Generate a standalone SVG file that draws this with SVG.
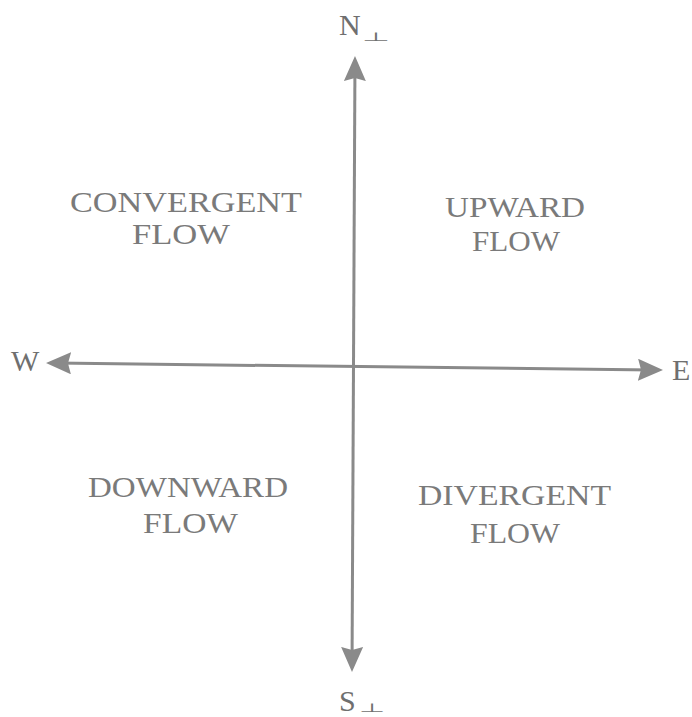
<svg xmlns="http://www.w3.org/2000/svg" width="692" height="717" viewBox="0 0 692 717">
  <style>
    .axis { stroke: #8a8a8a; stroke-width: 3; fill: none; }
    .lbl { font-family: "Liberation Serif", "DejaVu Serif", serif; font-size: 29px; fill: #7a7a7a; }
    .dir { font-family: "Liberation Serif", "DejaVu Serif", serif; font-size: 30px; fill: #6f6f6f; }
    .perp { font-family: "DejaVu Sans", sans-serif; font-size: 20px; fill: #6f6f6f; }
  </style>
  <defs>
    <marker id="arrow" viewBox="0 0 25 22" refX="15" refY="11" markerWidth="25" markerHeight="22" markerUnits="userSpaceOnUse" orient="auto-start-reverse">
      <path d="M0,0 L25,11 L0,22 L3,11 z" fill="#8a8a8a"/>
    </marker>
  </defs>
  <rect width="692" height="717" fill="#ffffff"/>
  <g id="connectors">
    <line class="axis" x1="354.95" y1="66" x2="352.05" y2="662" marker-start="url(#arrow)" marker-end="url(#arrow)"/>
    <line class="axis" x1="56" y1="363.1" x2="653" y2="369.9" marker-start="url(#arrow)" marker-end="url(#arrow)"/>
  </g>
  <g id="north">
    <text class="dir" x="339" y="35">N</text>
    <text class="perp" transform="translate(362,41) scale(1.6,0.6)">⊥</text>
  </g>
  <g id="south">
    <text class="dir" x="339" y="711">S</text>
    <text class="perp" transform="translate(359,712) scale(1.5,0.6)">⊥</text>
  </g>
  <g id="west">
    <text class="dir" x="11" y="371">W</text>
  </g>
  <g id="east">
    <text class="dir" x="672" y="380">E</text>
  </g>
  <g id="convergent">
    <text class="lbl" x="70" y="212" textLength="232" lengthAdjust="spacingAndGlyphs">CONVERGENT</text>
    <text class="lbl" x="132" y="244" textLength="98" lengthAdjust="spacingAndGlyphs">FLOW</text>
  </g>
  <g id="upward">
    <text class="lbl" x="445" y="217" textLength="140" lengthAdjust="spacingAndGlyphs">UPWARD</text>
    <text class="lbl" x="472" y="251" textLength="88" lengthAdjust="spacingAndGlyphs">FLOW</text>
  </g>
  <g id="downward">
    <text class="lbl" x="88" y="497" textLength="200" lengthAdjust="spacingAndGlyphs">DOWNWARD</text>
    <text class="lbl" x="143" y="533" textLength="95" lengthAdjust="spacingAndGlyphs">FLOW</text>
  </g>
  <g id="divergent">
    <text class="lbl" x="418" y="505" textLength="193" lengthAdjust="spacingAndGlyphs">DIVERGENT</text>
    <text class="lbl" x="470" y="543" textLength="90" lengthAdjust="spacingAndGlyphs">FLOW</text>
  </g>
</svg>
